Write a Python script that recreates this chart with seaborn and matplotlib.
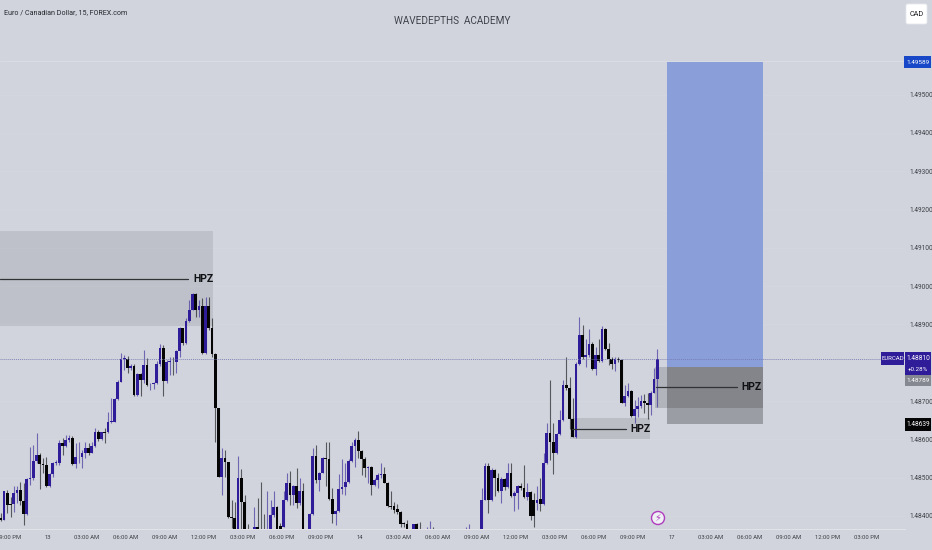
import numpy as np
import matplotlib
matplotlib.use("Agg")
import matplotlib.pyplot as plt
from matplotlib.patches import Rectangle, FancyBboxPatch, Circle
from matplotlib.transforms import Affine2D
import seaborn as sns

# Candles, in points (0.00001) above 1.48000
opens = [396,390,459,431,431,459,468,439,404,496,498,544,558,535,533,477,510,537,537,591,583,598,603,536,553,553,564,577,565,583,619,601,618,618,645,646,705,751,811,811,785,792,716,770,755,794,744,745,746,797,838,753,803,803,803,831,890,852,909,939,979,938,948,825,948,890,822,681,501,552,540,397,396,365,
498,437,359,346,350,372,363,355,350,359,403,423,374,372,442,485,455,478,435,464,359,359,404,557,494,513,551,549,444,405,413,471,475,490,544,583,598,570,548,524,529,481,494,507,509,487,427,426,417,410,381,379,366,363,379,359,355,350,346,355,350,340,330,322,318,312,320,326,335,345,350,352,358,354,355,
443,531,442,520,498,466,496,475,513,451,459,478,474,449,462,442,433,444,431,538,616,594,564,613,651,742,733,653,605,798,872,814,820,848,783,820,805,887,836,809,796,809,807,696,714,727,662,678,687,701,696,690,722,757]
closes = [390,464,429,429,459,468,439,404,496,498,544,558,535,533,477,510,537,540,591,583,598,603,536,553,555,564,577,565,583,619,601,618,616,645,647,705,751,811,812,785,792,716,770,755,794,742,745,746,797,838,753,803,805,801,831,890,852,909,939,979,938,948,825,948,890,822,681,501,552,540,397,396,365,498,
437,359,346,350,372,363,355,350,359,403,423,363,365,442,485,455,478,435,464,359,350,404,557,494,513,551,549,444,405,413,471,475,490,544,583,598,570,548,524,529,481,494,507,509,487,427,424,416,410,379,379,366,355,379,366,355,346,355,350,340,330,322,318,312,320,326,335,345,350,352,358,354,350,355,443,
531,442,520,498,466,496,475,513,451,459,478,474,449,462,400,400,442,431,538,616,594,564,613,651,742,733,653,605,798,872,814,820,848,783,820,805,887,836,809,796,809,807,696,714,727,662,678,687,701,696,690,722,757,810]
highs = [407,466,468,450,477,477,490,485,498,581,585,616,564,551,553,511,542,546,598,603,611,611,609,590,594,572,594,590,594,629,624,620,629,672,707,709,755,826,820,818,797,796,772,772,833,812,748,751,805,849,846,807,814,816,833,894,892,916,964,983,983,964,968,972,972,916,825,683,577,572,542,442,437,557,
522,455,379,363,424,446,490,404,464,442,466,426,381,464,511,518,481,524,498,487,363,407,577,584,516,553,592,592,472,416,509,548,537,549,594,603,622,572,555,531,531,498,511,537,529,490,465,437,431,413,385,390,366,379,381,383,362,370,387,372,355,348,336,332,326,328,334,345,352,372,379,362,362,360,472,
537,539,525,522,511,503,498,537,537,464,481,485,533,487,464,461,477,498,564,642,755,642,616,677,755,814,764,707,803,919,899,861,887,855,842,861,896,892,851,816,814,814,811,742,746,729,703,711,716,719,720,725,785,835]
lows = [388,389,407,398,411,433,429,377,403,481,494,537,470,511,475,475,503,533,533,559,581,594,533,524,537,524,551,559,564,581,597,598,590,616,642,645,703,749,781,772,781,714,713,714,746,740,729,732,744,792,712,746,768,768,772,816,846,849,907,938,920,920,823,823,885,816,594,501,455,503,394,368,364,366,
366,355,337,329,346,355,337,337,337,355,398,359,363,370,440,429,429,420,429,355,346,355,403,485,464,511,477,442,381,377,411,457,455,485,542,527,551,507,503,485,455,477,472,498,485,424,417,407,404,372,372,363,346,362,363,350,337,337,342,342,330,322,315,310,305,306,314,320,328,340,342,345,345,345,346,
442,407,440,451,463,435,468,472,449,414,417,468,446,442,390,372,416,414,429,536,546,509,562,611,649,729,626,605,604,794,809,790,814,781,768,803,803,833,794,783,779,803,694,687,711,659,644,659,681,670,652,664,720,684]

time_labels = ["09:00 PM","13","03:00 AM","06:00 AM","09:00 AM","12:00 PM","03:00 PM","06:00 PM","09:00 PM","14",
               "03:00 AM","06:00 AM","09:00 AM","12:00 PM","03:00 PM","06:00 PM","09:00 PM","17","03:00 AM",
               "06:00 AM","09:00 AM","12:00 PM","03:00 PM"]
price_ticks = [1.484,1.485,1.486,1.487,1.489,1.490,1.491,1.492,1.493,1.494,1.495]
last_price = 1.48810
entry_price = 1.48789
stop_price = 1.48639
target_price = 1.49589

BG = "#d1d4dc"
BLUE = "#2f1c98"

sns.set_theme(style="white", rc={"figure.facecolor": BG, "axes.facecolor": BG})
plt.rcParams["font.family"] = ["Roboto", "DejaVu Sans"]

W, H = 932, 550
fig = plt.figure(figsize=(W/100, H/100), dpi=100)
ax = fig.add_axes([0, 21/H, 905/W, 529/H])

o = 1.48 + np.array(opens)*1e-5
c = 1.48 + np.array(closes)*1e-5
hi = 1.48 + np.array(highs)*1e-5
lo = 1.48 + np.array(lows)*1e-5
idx = np.arange(len(o))
up = c >= o
cols = np.where(up, BLUE, "#050505")

# zones
ax.axhspan(1.48896, 1.49144, xmin=0, xmax=213/905, color="#000000", alpha=0.085, lw=0, zorder=1)
ax.add_patch(Rectangle((175.2, 1.48601), 24.6, 0.00055, color="#000000", alpha=0.1, lw=0, zorder=1))
ax.add_patch(Rectangle((205, entry_price), 29.5, target_price-entry_price, color="#8a9fd9", lw=0, zorder=1))
ax.add_patch(Rectangle((205, stop_price), 29.5, entry_price-stop_price, color="#9b9da4", lw=0, zorder=1))
ax.add_patch(Rectangle((201.3, 1.48683), 33.2, entry_price-1.48683, color="#000000", alpha=0.15, lw=0, zorder=1))

ax.set_yticks(price_ticks)
ax.yaxis.grid(True, color="#d4d7de", lw=0.6, zorder=0)
ax.xaxis.grid(False)
ax.axhline(target_price, color="#dadde3", lw=0.7, zorder=1)

# candles
ax.vlines(idx, lo, hi, colors=cols, lw=0.8, alpha=0.6, zorder=3)
ax.bar(idx, np.maximum(np.abs(c-o), 1.5e-5), bottom=np.minimum(o, c), width=0.85, color=cols, lw=0, zorder=4)

# last-price line
ax.axhline(last_price, color="#7478b0", lw=0.7, ls=(0, (1, 1)), alpha=0.85, zorder=5)

# HPZ markers
for x0, x1, p, tx in [(-0.3, 57.6, 1.49019, 59.1), (175.8, 192.4, 1.48627, 193.6), (201.6, 226.5, 1.48737, 227.8)]:
    sns.lineplot(x=[x0, x1], y=[p, p], ax=ax, color="#303236", lw=0.9, zorder=6, legend=False)
    ax.text(tx, p, "HPZ", fontsize=7.5, fontweight="bold", color="#101114", va="center", ha="left", zorder=7)

ax.set_xlim(-0.246, 278.2)
ax.set_ylim(1.48366, 1.49747)
ax.set_xticks(np.arange(len(time_labels))*12 + 2.5)
ax.set_xticklabels(time_labels, fontsize=4.2, color="#3d3f46")
ax.yaxis.tick_right()
ax.set_yticklabels([f"{p:.5f}" for p in price_ticks], fontsize=4.7, color="#3d3f46")
ax.tick_params(axis="x", length=0, pad=4.5)
ax.tick_params(axis="y", length=0, pad=3)
sns.despine(ax=ax, left=True, top=True)
for s in ("right", "bottom"):
    ax.spines[s].set_color("#e1e3e9")
    ax.spines[s].set_linewidth(0.8)

# fixed-pixel overlay helpers
px = Affine2D().scale(1/W, -1/H).translate(0, 1) + fig.transFigure
def box(x0, x1, y0, y1, color, **kw):
    fig.add_artist(Rectangle((x0, y0), x1-x0, y1-y0, transform=px, color=color, lw=0, **kw))
def label(x, y, s, size=4.6, color="white", ha="center", **kw):
    fig.text(x, y, s, transform=px, fontsize=size, color=color, ha=ha, va="center", **kw)

box(881, 904, 352, 365, BLUE)
label(892.5, 358.5, "EURCAD", 4.3)
box(905, 931, 352, 375, BLUE)
label(918, 358.5, "1.48810", 4.7)
label(918, 369, "+0.28%", 4.4)
box(905, 931, 375, 386, "#858791")
label(918, 380.5, "1.48789", 4.6)
box(905, 931, 418, 431, "#050505")
label(918, 424.5, "1.48639", 4.7)
box(904, 931, 56, 68, "#1848c8")
label(917.5, 62, "1.49589", 4.6)

fig.add_artist(FancyBboxPatch((906, 4), 21, 20, boxstyle="round,pad=0,rounding_size=2", transform=px,
                              fc="white", ec="#e6e8ee", lw=0.6))
label(916.5, 14, "CAD", 5.2, color="#1a1b20")

label(4, 13, "Euro / Canadian Dollar, 15, FOREX.com", 5.1, color="#25272d", ha="left")
label(452, 21, "WAVEDEPTHS  ACADEMY", 7.2, color="#3f4249")

fig.add_artist(Circle((658, 518), 6.5, transform=px, fc="#eef0f4", ec="#b03cc0", lw=1))
label(658, 518, "\u26a1", 7, color="#b03cc0", family="DejaVu Sans")

fig.savefig("out.png", dpi=100, facecolor=BG)
